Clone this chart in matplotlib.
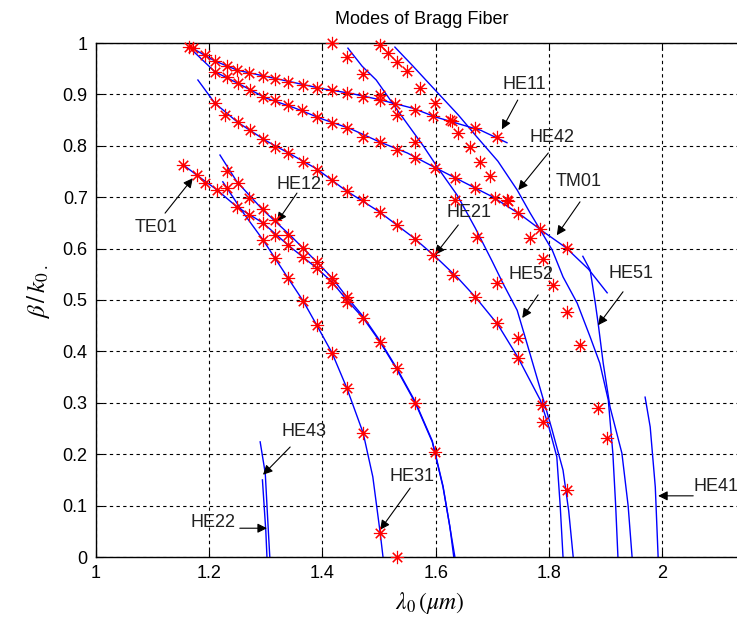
import matplotlib
matplotlib.use("Agg")
import matplotlib.pyplot as plt
import numpy as np

plt.rcParams['font.family'] = ['Liberation Sans', 'DejaVu Sans']
plt.rcParams['mathtext.fontset'] = 'stix'

# ---- computed mode curves (blue lines) ----
he11_x = [1.17, 1.21, 1.25, 1.30, 1.35, 1.40, 1.45, 1.50, 1.56, 1.60, 1.64, 1.68, 1.726]
he11_y = [0.99, 0.965, 0.947, 0.935, 0.923, 0.911, 0.902, 0.89, 0.873, 0.856, 0.843, 0.83, 0.806]

tm01_x = [1.17, 1.21, 1.25, 1.30, 1.35, 1.40, 1.45, 1.50, 1.55, 1.60, 1.65, 1.70, 1.75, 1.79, 1.83, 1.87, 1.903]
tm01_y = [0.986, 0.944, 0.922, 0.893, 0.874, 0.852, 0.833, 0.808, 0.786, 0.757, 0.729, 0.701, 0.666, 0.633, 0.602, 0.56, 0.514]

he21_x = [1.18, 1.21, 1.25, 1.30, 1.34, 1.39, 1.44, 1.50, 1.56, 1.60, 1.64, 1.67, 1.71, 1.745, 1.785, 1.80, 1.814, 1.82, 1.825]
he21_y = [0.928, 0.883, 0.846, 0.81, 0.786, 0.755, 0.714, 0.672, 0.622, 0.584, 0.542, 0.506, 0.452, 0.389, 0.305, 0.253, 0.195, 0.1, 0.0]

he52_x = [1.445, 1.47, 1.495, 1.532, 1.578, 1.604, 1.638, 1.67, 1.70, 1.72, 1.744, 1.758, 1.784, 1.805, 1.825, 1.835, 1.843]
he52_y = [0.99, 0.955, 0.928, 0.87, 0.80, 0.757, 0.704, 0.64, 0.575, 0.53, 0.48, 0.428, 0.33, 0.25, 0.169, 0.09, 0.0]

he42_x = [1.528, 1.56, 1.602, 1.64, 1.673, 1.71, 1.744, 1.767, 1.784, 1.806, 1.825, 1.85, 1.873, 1.89, 1.905, 1.913, 1.918, 1.922]
he42_y = [0.992, 0.955, 0.905, 0.86, 0.817, 0.77, 0.714, 0.669, 0.638, 0.597, 0.545, 0.494, 0.428, 0.377, 0.305, 0.202, 0.1, 0.0]

he51_x = [1.86, 1.873, 1.882, 1.887, 1.896, 1.908, 1.929, 1.94, 1.947]
he51_y = [0.585, 0.558, 0.494, 0.455, 0.377, 0.292, 0.202, 0.1, 0.0]

he41_x = [1.97, 1.979, 1.988, 1.993]
he41_y = [0.311, 0.253, 0.136, 0.0]

he43_x = [1.29, 1.295, 1.299, 1.303, 1.307]
he43_y = [0.224, 0.19, 0.163, 0.08, 0.0]

he22_x = [1.294, 1.297, 1.300, 1.302]
he22_y = [0.15, 0.1, 0.05, 0.0]

he31_x = [1.224, 1.26, 1.295, 1.339, 1.366, 1.39, 1.417, 1.443, 1.472, 1.489, 1.502, 1.507]
he31_y = [0.73, 0.67, 0.617, 0.543, 0.498, 0.451, 0.397, 0.329, 0.241, 0.156, 0.047, 0.0]

te01_x = [1.154, 1.178, 1.214, 1.249, 1.295, 1.339, 1.39, 1.417, 1.443, 1.472, 1.502, 1.532, 1.564, 1.594, 1.613, 1.625, 1.632]
te01_y = [0.763, 0.743, 0.714, 0.681, 0.65, 0.607, 0.562, 0.535, 0.5, 0.465, 0.418, 0.364, 0.3, 0.224, 0.136, 0.06, 0.0]

he12_x = [1.219, 1.249, 1.295, 1.343, 1.39, 1.417, 1.443, 1.472, 1.502, 1.532, 1.564, 1.594, 1.613, 1.634]
he12_y = [0.782, 0.73, 0.675, 0.626, 0.574, 0.543, 0.506, 0.468, 0.42, 0.366, 0.302, 0.226, 0.138, 0.0]

curves = [(he11_x, he11_y), (tm01_x, tm01_y), (he21_x, he21_y), (he52_x, he52_y),
          (he42_x, he42_y), (he51_x, he51_y), (he41_x, he41_y), (he43_x, he43_y),
          (he22_x, he22_y), (he31_x, he31_y), (te01_x, te01_y), (he12_x, he12_y)]

# ---- reference points (red asterisks) ----
s_he11_x = [1.165, 1.171, 1.193, 1.21, 1.231, 1.249, 1.27, 1.295, 1.316, 1.339, 1.366, 1.39, 1.417,
            1.443, 1.472, 1.502, 1.528, 1.564, 1.595, 1.629, 1.67, 1.708]
s_he11_y = [0.992, 0.99, 0.977, 0.965, 0.955, 0.947, 0.942, 0.936, 0.93, 0.924, 0.918, 0.912, 0.908,
            0.903, 0.895, 0.889, 0.882, 0.87, 0.858, 0.848, 0.835, 0.817]

s_tm01_x = [1.21, 1.231, 1.251, 1.272, 1.295, 1.316, 1.339, 1.364, 1.39, 1.417, 1.443, 1.472, 1.502,
            1.532, 1.564, 1.599, 1.634, 1.67, 1.705, 1.728, 1.746, 1.784, 1.832]
s_tm01_y = [0.944, 0.934, 0.922, 0.909, 0.895, 0.889, 0.879, 0.87, 0.856, 0.844, 0.835, 0.817, 0.807,
            0.792, 0.776, 0.757, 0.737, 0.718, 0.698, 0.693, 0.669, 0.638, 0.601]

s_he21_x = [1.21, 1.228, 1.251, 1.272, 1.295, 1.316, 1.339, 1.366, 1.39, 1.417, 1.443, 1.472, 1.502,
            1.532, 1.564, 1.595, 1.631, 1.67, 1.708, 1.746, 1.788]
s_he21_y = [0.883, 0.86, 0.846, 0.831, 0.813, 0.798, 0.786, 0.768, 0.753, 0.733, 0.712, 0.695, 0.671,
            0.646, 0.619, 0.588, 0.549, 0.506, 0.455, 0.387, 0.296]

s_he52_x = [1.417, 1.443, 1.472, 1.502, 1.532, 1.564, 1.634, 1.673, 1.708, 1.746, 1.79, 1.832]
s_he52_y = [1.0, 0.973, 0.94, 0.899, 0.86, 0.807, 0.695, 0.623, 0.533, 0.426, 0.263, 0.13]

s_he42_x = [1.502, 1.516, 1.532, 1.549, 1.572, 1.599, 1.625, 1.64, 1.661, 1.678, 1.696, 1.726, 1.767,
            1.79, 1.807, 1.832, 1.855, 1.887, 1.902]
s_he42_y = [0.996, 0.98, 0.963, 0.945, 0.913, 0.883, 0.85, 0.825, 0.798, 0.768, 0.741, 0.695, 0.62,
            0.579, 0.529, 0.477, 0.412, 0.29, 0.232]

s_te01_x = [1.154, 1.178, 1.193, 1.214, 1.249, 1.27, 1.295, 1.316, 1.339, 1.366, 1.39, 1.417, 1.443,
            1.472, 1.502, 1.532, 1.564, 1.599]
s_te01_y = [0.763, 0.743, 0.728, 0.714, 0.681, 0.665, 0.65, 0.626, 0.607, 0.584, 0.562, 0.533, 0.496,
            0.465, 0.418, 0.368, 0.3, 0.204]

s_he12_x = [1.231, 1.251, 1.231, 1.27, 1.295, 1.316, 1.339, 1.366, 1.39, 1.417, 1.443]
s_he12_y = [0.751, 0.728, 0.718, 0.698, 0.677, 0.656, 0.626, 0.601, 0.574, 0.543, 0.506]

s_he31_x = [1.295, 1.316, 1.339, 1.366, 1.39, 1.417, 1.443, 1.472, 1.502, 1.532]
s_he31_y = [0.617, 0.582, 0.543, 0.498, 0.451, 0.397, 0.329, 0.241, 0.047, 0.0]

stars = [(s_he11_x, s_he11_y), (s_tm01_x, s_tm01_y), (s_he21_x, s_he21_y), (s_he52_x, s_he52_y),
         (s_he42_x, s_he42_y), (s_te01_x, s_te01_y), (s_he12_x, s_he12_y), (s_he31_x, s_he31_y)]

# ---- labels: name, text centre, arrow tail, arrow head ----
mode_names = ['HE11', 'HE42', 'TM01', 'HE21', 'HE52', 'HE51', 'HE41', 'HE43', 'HE22', 'HE31', 'HE12', 'TE01']
label_pos = [(1.757, 0.920), (1.806, 0.817), (1.852, 0.730), (1.659, 0.671), (1.769, 0.549),
             (1.945, 0.551), (2.095, 0.138), (1.368, 0.245), (1.207, 0.068), (1.558, 0.156),
             (1.359, 0.724), (1.106, 0.642)]
arrow_from = [(1.745, 0.889), (1.799, 0.786), (1.855, 0.691), (1.640, 0.646), (1.781, 0.510),
              (1.931, 0.516), (2.055, 0.119), (1.343, 0.214), (1.254, 0.056), (1.555, 0.134),
              (1.355, 0.708), (1.122, 0.669)]
arrow_to = [(1.717, 0.832), (1.746, 0.714), (1.814, 0.626), (1.599, 0.588), (1.753, 0.465),
            (1.887, 0.451), (1.993, 0.119), (1.295, 0.160), (1.302, 0.056), (1.502, 0.053),
            (1.320, 0.652), (1.171, 0.737)]

fig = plt.figure(figsize=(7.37, 6.19), dpi=100)
ax = fig.add_axes([96/737, 62/619, 651/737, 514/619])

for cx, cy in curves:
    ax.plot(cx, cy, color='#0000ff', lw=1.0)

for sx, sy in stars:
    ax.plot(sx, sy, linestyle='none', marker=(8, 2, 0), markersize=9.5,
            markeredgewidth=0.8, color='#ff0000', clip_on=False, zorder=5)

for name, lp, a0, a1 in zip(mode_names, label_pos, arrow_from, arrow_to):
    ax.text(lp[0], lp[1], name, fontsize=13, ha='center', va='center', color='#202020')
    ax.annotate('', xy=a1, xytext=a0,
                arrowprops=dict(arrowstyle='-|>', color='k', lw=0.8,
                                mutation_scale=14, shrinkA=0, shrinkB=0))

ax.set_xlim(1, 2.15)
ax.set_ylim(0, 1)
ax.set_xticks([1, 1.2, 1.4, 1.6, 1.8, 2])
ax.set_xticklabels(['1', '1.2', '1.4', '1.6', '1.8', '2'])
ax.set_yticks(np.arange(0, 1.01, 0.1))
ax.set_yticklabels(['0', '0.1', '0.2', '0.3', '0.4', '0.5', '0.6', '0.7', '0.8', '0.9', '1'])
ax.tick_params(direction='in', length=5, labelsize=13, top=True, right=True, pad=6)
ax.grid(True, color='k', linestyle=(0, (3, 3)), lw=0.8)
for sp in ax.spines.values():
    sp.set_linewidth(1.0)

ax.set_title('Modes of Bragg Fiber', fontsize=13, pad=14)
ax.set_xlabel(r'$\lambda_0\,(\mu m)$', fontsize=17)
ax.xaxis.set_label_coords(0.513, -0.065)
ax.set_ylabel(r'$\beta\,/\,k_{0\;.}$', fontsize=18)
ax.yaxis.set_label_coords(-0.068, 0.517)

fig.savefig('out.png', dpi=100)
